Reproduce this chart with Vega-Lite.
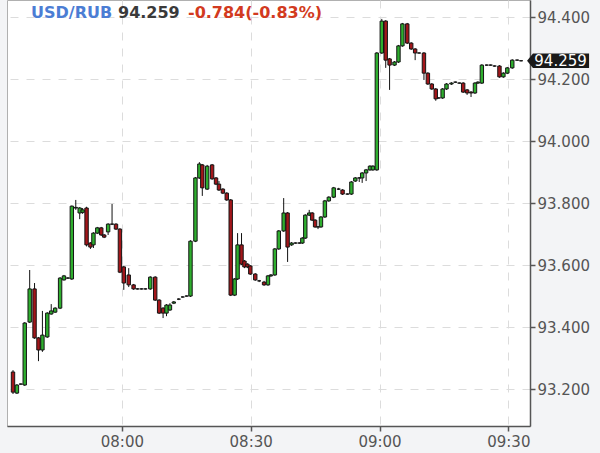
{
  "$schema": "https://vega.github.io/schema/vega-lite/v6.json",
  "width": 523,
  "height": 426,
  "autosize": {"type": "none"},
  "padding": {"left": 7, "top": 0, "right": 70, "bottom": 27},
  "background": "#f3f4f6",
  "view": {"fill": "#ffffff", "stroke": "#b0b0b0", "strokeWidth": 1},
  "config": {
    "axis": {
      "labelFont": "DejaVu Sans",
      "labelFontSize": 15,
      "labelColor": "#555555",
      "domainColor": "#555555",
      "domainWidth": 1.5,
      "tickColor": "#555555",
      "tickSize": 5,
      "tickWidth": 1.5,
      "gridColor": "#dcdcdc",
      "gridDash": [8, 8],
      "gridWidth": 1,
      "title": null
    }
  },
  "data": {
    "format": {"parse": {"t": "date:'%H:%M:%S'"}},
    "values": [
      {"t":"07:34:39","o":93.255,"h":93.261,"l":93.184,"c":93.190},
      {"t":"07:35:34","o":93.187,"h":93.216,"l":93.184,"c":93.213},
      {"t":"07:36:28","o":93.216,"h":93.218,"l":93.214,"c":93.216},
      {"t":"07:37:23","o":93.213,"h":93.416,"l":93.210,"c":93.413},
      {"t":"07:38:32","o":93.416,"h":93.584,"l":93.413,"c":93.523},
      {"t":"07:39:40","o":93.523,"h":93.542,"l":93.362,"c":93.365},
      {"t":"07:40:35","o":93.365,"h":93.368,"l":93.290,"c":93.326},
      {"t":"07:41:30","o":93.326,"h":93.452,"l":93.320,"c":93.374},
      {"t":"07:42:38","o":93.368,"h":93.448,"l":93.365,"c":93.445},
      {"t":"07:43:33","o":93.442,"h":93.474,"l":93.440,"c":93.452},
      {"t":"07:44:28","o":93.448,"h":93.464,"l":93.446,"c":93.461},
      {"t":"07:45:37","o":93.461,"h":93.561,"l":93.458,"c":93.558},
      {"t":"07:46:31","o":93.552,"h":93.568,"l":93.550,"c":93.565},
      {"t":"07:47:26","o":93.558,"h":93.561,"l":93.555,"c":93.558},
      {"t":"07:48:21","o":93.555,"h":93.792,"l":93.552,"c":93.790},
      {"t":"07:49:16","o":93.784,"h":93.810,"l":93.778,"c":93.786},
      {"t":"07:50:11","o":93.768,"h":93.787,"l":93.748,"c":93.784},
      {"t":"07:50:52","o":93.770,"h":93.784,"l":93.765,"c":93.778},
      {"t":"07:51:47","o":93.784,"h":93.788,"l":93.660,"c":93.665},
      {"t":"07:52:41","o":93.671,"h":93.674,"l":93.652,"c":93.658},
      {"t":"07:53:23","o":93.665,"h":93.706,"l":93.655,"c":93.703},
      {"t":"07:54:17","o":93.703,"h":93.723,"l":93.700,"c":93.720},
      {"t":"07:55:12","o":93.720,"h":93.723,"l":93.694,"c":93.697},
      {"t":"07:55:53","o":93.697,"h":93.700,"l":93.687,"c":93.690},
      {"t":"07:56:48","o":93.707,"h":93.735,"l":93.697,"c":93.732},
      {"t":"07:57:43","o":93.732,"h":93.797,"l":93.729,"c":93.732},
      {"t":"07:58:38","o":93.732,"h":93.735,"l":93.713,"c":93.716},
      {"t":"07:59:33","o":93.716,"h":93.719,"l":93.574,"c":93.577},
      {"t":"08:00:27","o":93.594,"h":93.597,"l":93.520,"c":93.542},
      {"t":"08:01:36","o":93.568,"h":93.590,"l":93.529,"c":93.536},
      {"t":"08:02:44","o":93.536,"h":93.539,"l":93.520,"c":93.523},
      {"t":"08:03:39","o":93.523,"h":93.525,"l":93.521,"c":93.523},
      {"t":"08:04:34","o":93.523,"h":93.525,"l":93.521,"c":93.523},
      {"t":"08:05:29","o":93.523,"h":93.525,"l":93.521,"c":93.523},
      {"t":"08:06:37","o":93.523,"h":93.564,"l":93.520,"c":93.561},
      {"t":"08:07:46","o":93.561,"h":93.564,"l":93.484,"c":93.487},
      {"t":"08:08:41","o":93.487,"h":93.490,"l":93.442,"c":93.445},
      {"t":"08:09:36","o":93.461,"h":93.464,"l":93.429,"c":93.445},
      {"t":"08:10:24","o":93.445,"h":93.474,"l":93.435,"c":93.471},
      {"t":"08:11:12","o":93.455,"h":93.477,"l":93.452,"c":93.471},
      {"t":"08:12:06","o":93.477,"h":93.484,"l":93.474,"c":93.481},
      {"t":"08:13:15","o":93.490,"h":93.493,"l":93.487,"c":93.490},
      {"t":"08:14:10","o":93.497,"h":93.499,"l":93.495,"c":93.497},
      {"t":"08:15:05","o":93.500,"h":93.502,"l":93.498,"c":93.500},
      {"t":"08:15:59","o":93.500,"h":93.680,"l":93.497,"c":93.677},
      {"t":"08:17:08","o":93.677,"h":93.884,"l":93.674,"c":93.881},
      {"t":"08:18:03","o":93.881,"h":93.932,"l":93.878,"c":93.926},
      {"t":"08:18:44","o":93.923,"h":93.926,"l":93.823,"c":93.849},
      {"t":"08:19:52","o":93.845,"h":93.923,"l":93.842,"c":93.919},
      {"t":"08:21:01","o":93.923,"h":93.926,"l":93.875,"c":93.878},
      {"t":"08:21:56","o":93.881,"h":93.884,"l":93.858,"c":93.861},
      {"t":"08:22:37","o":93.861,"h":93.871,"l":93.839,"c":93.842},
      {"t":"08:23:32","o":93.845,"h":93.848,"l":93.829,"c":93.832},
      {"t":"08:24:26","o":93.832,"h":93.835,"l":93.807,"c":93.810},
      {"t":"08:25:21","o":93.810,"h":93.813,"l":93.500,"c":93.503},
      {"t":"08:26:16","o":93.503,"h":93.558,"l":93.500,"c":93.555},
      {"t":"08:26:57","o":93.555,"h":93.703,"l":93.552,"c":93.665},
      {"t":"08:27:52","o":93.665,"h":93.703,"l":93.600,"c":93.603},
      {"t":"08:28:33","o":93.613,"h":93.616,"l":93.590,"c":93.594},
      {"t":"08:29:14","o":93.603,"h":93.606,"l":93.590,"c":93.594},
      {"t":"08:29:55","o":93.597,"h":93.600,"l":93.568,"c":93.571},
      {"t":"08:31:04","o":93.571,"h":93.574,"l":93.549,"c":93.552},
      {"t":"08:31:59","o":93.549,"h":93.552,"l":93.545,"c":93.549},
      {"t":"08:33:07","o":93.545,"h":93.549,"l":93.533,"c":93.536},
      {"t":"08:34:02","o":93.536,"h":93.568,"l":93.533,"c":93.565},
      {"t":"08:34:43","o":93.565,"h":93.571,"l":93.562,"c":93.568},
      {"t":"08:35:38","o":93.568,"h":93.655,"l":93.565,"c":93.652},
      {"t":"08:36:33","o":93.652,"h":93.713,"l":93.649,"c":93.710},
      {"t":"08:37:41","o":93.710,"h":93.816,"l":93.707,"c":93.768},
      {"t":"08:38:36","o":93.768,"h":93.771,"l":93.610,"c":93.658},
      {"t":"08:39:31","o":93.665,"h":93.674,"l":93.662,"c":93.671},
      {"t":"08:40:26","o":93.671,"h":93.673,"l":93.669,"c":93.671},
      {"t":"08:41:21","o":93.671,"h":93.673,"l":93.669,"c":93.671},
      {"t":"08:42:02","o":93.671,"h":93.690,"l":93.668,"c":93.687},
      {"t":"08:42:43","o":93.687,"h":93.764,"l":93.684,"c":93.761},
      {"t":"08:43:38","o":93.761,"h":93.778,"l":93.758,"c":93.768},
      {"t":"08:44:19","o":93.768,"h":93.771,"l":93.742,"c":93.745},
      {"t":"08:45:00","o":93.745,"h":93.748,"l":93.720,"c":93.723},
      {"t":"08:45:41","o":93.723,"h":93.726,"l":93.716,"c":93.723},
      {"t":"08:46:22","o":93.723,"h":93.758,"l":93.720,"c":93.755},
      {"t":"08:47:17","o":93.755,"h":93.810,"l":93.752,"c":93.807},
      {"t":"08:48:12","o":93.807,"h":93.822,"l":93.804,"c":93.819},
      {"t":"08:49:20","o":93.819,"h":93.852,"l":93.816,"c":93.849},
      {"t":"08:50:29","o":93.845,"h":93.849,"l":93.842,"c":93.845},
      {"t":"08:51:24","o":93.842,"h":93.845,"l":93.826,"c":93.829},
      {"t":"08:52:32","o":93.829,"h":93.831,"l":93.827,"c":93.829},
      {"t":"08:53:27","o":93.829,"h":93.871,"l":93.826,"c":93.868},
      {"t":"08:54:22","o":93.871,"h":93.884,"l":93.868,"c":93.881},
      {"t":"08:55:17","o":93.881,"h":93.884,"l":93.868,"c":93.881},
      {"t":"08:55:58","o":93.881,"h":93.900,"l":93.865,"c":93.897},
      {"t":"08:56:53","o":93.897,"h":93.910,"l":93.871,"c":93.907},
      {"t":"08:57:47","o":93.907,"h":93.922,"l":93.904,"c":93.919},
      {"t":"08:58:28","o":93.907,"h":93.922,"l":93.904,"c":93.919},
      {"t":"08:59:23","o":93.907,"h":94.287,"l":93.904,"c":94.284},
      {"t":"09:00:32","o":94.284,"h":94.394,"l":94.281,"c":94.387},
      {"t":"09:01:27","o":94.387,"h":94.390,"l":94.236,"c":94.261},
      {"t":"09:02:21","o":94.265,"h":94.268,"l":94.165,"c":94.245},
      {"t":"09:03:30","o":94.245,"h":94.258,"l":94.242,"c":94.255},
      {"t":"09:04:25","o":94.255,"h":94.310,"l":94.252,"c":94.307},
      {"t":"09:05:20","o":94.307,"h":94.381,"l":94.304,"c":94.378},
      {"t":"09:06:28","o":94.378,"h":94.381,"l":94.313,"c":94.316},
      {"t":"09:07:23","o":94.316,"h":94.319,"l":94.294,"c":94.297},
      {"t":"09:08:18","o":94.297,"h":94.300,"l":94.261,"c":94.284},
      {"t":"09:09:13","o":94.284,"h":94.286,"l":94.282,"c":94.284},
      {"t":"09:10:21","o":94.284,"h":94.287,"l":94.197,"c":94.219},
      {"t":"09:11:16","o":94.219,"h":94.222,"l":94.181,"c":94.184},
      {"t":"09:12:11","o":94.184,"h":94.187,"l":94.165,"c":94.168},
      {"t":"09:13:06","o":94.168,"h":94.171,"l":94.130,"c":94.136},
      {"t":"09:13:47","o":94.139,"h":94.141,"l":94.137,"c":94.139},
      {"t":"09:14:42","o":94.139,"h":94.171,"l":94.136,"c":94.168},
      {"t":"09:15:36","o":94.168,"h":94.187,"l":94.165,"c":94.184},
      {"t":"09:16:45","o":94.184,"h":94.190,"l":94.181,"c":94.187},
      {"t":"09:17:40","o":94.190,"h":94.192,"l":94.188,"c":94.190},
      {"t":"09:18:35","o":94.187,"h":94.189,"l":94.185,"c":94.187},
      {"t":"09:19:29","o":94.187,"h":94.190,"l":94.155,"c":94.158},
      {"t":"09:20:24","o":94.165,"h":94.168,"l":94.149,"c":94.155},
      {"t":"09:21:19","o":94.158,"h":94.161,"l":94.142,"c":94.155},
      {"t":"09:22:14","o":94.155,"h":94.190,"l":94.152,"c":94.187},
      {"t":"09:22:55","o":94.187,"h":94.193,"l":94.184,"c":94.190},
      {"t":"09:23:50","o":94.187,"h":94.248,"l":94.184,"c":94.245},
      {"t":"09:24:58","o":94.245,"h":94.247,"l":94.243,"c":94.245},
      {"t":"09:25:53","o":94.245,"h":94.247,"l":94.243,"c":94.245},
      {"t":"09:26:48","o":94.242,"h":94.244,"l":94.240,"c":94.242},
      {"t":"09:27:56","o":94.242,"h":94.245,"l":94.204,"c":94.207},
      {"t":"09:28:51","o":94.207,"h":94.222,"l":94.204,"c":94.219},
      {"t":"09:29:46","o":94.219,"h":94.239,"l":94.216,"c":94.236},
      {"t":"09:30:55","o":94.236,"h":94.264,"l":94.233,"c":94.261},
      {"t":"09:32:03","o":94.261,"h":94.263,"l":94.259,"c":94.261},
      {"t":"09:32:58","o":94.259,"h":94.261,"l":94.257,"c":94.259}
    ]
  },
  "encoding": {
    "x": {
      "field": "t",
      "type": "temporal",
      "scale": {
        "domain": [
          {"year": 1900, "month": 1, "date": 1, "hours": 7, "minutes": 34, "seconds": 25},
          {"year": 1900, "month": 1, "date": 1, "hours": 9, "minutes": 33, "seconds": 53}
        ]
      },
      "axis": {
        "format": "%H:%M",
        "labelPadding": 3,
        "values": [
          {"year": 1900, "month": 1, "date": 1, "hours": 8, "minutes": 0},
          {"year": 1900, "month": 1, "date": 1, "hours": 8, "minutes": 30},
          {"year": 1900, "month": 1, "date": 1, "hours": 9, "minutes": 0},
          {"year": 1900, "month": 1, "date": 1, "hours": 9, "minutes": 30}
        ]
      }
    }
  },
  "layer": [
    {
      "mark": {"type": "rule", "color": "#111111", "strokeWidth": 1},
      "encoding": {
        "y": {
          "field": "l",
          "type": "quantitative",
          "scale": {"domain": [93.0808, 94.455], "nice": false, "zero": false},
          "axis": {
            "orient": "right",
            "values": [93.2, 93.4, 93.6, 93.8, 94.0, 94.2, 94.4],
            "format": ".3f",
            "labelPadding": 2
          }
        },
        "y2": {"field": "h"}
      }
    },
    {
      "mark": {"type": "bar", "size": 3.4, "stroke": "#151515", "strokeWidth": 1},
      "encoding": {
        "y": {"field": "o", "type": "quantitative"},
        "y2": {"field": "c"},
        "fill": {
          "condition": {"test": "datum.c >= datum.o", "value": "#2eae2e"},
          "value": "#a3161a"
        }
      }
    },
    {
      "transform": [
        {"window": [{"op": "row_number", "as": "rn"}], "sort": [{"field": "t", "order": "ascending"}]},
        {"filter": "datum.rn == 1"}
      ],
      "mark": {"type": "text", "align": "left", "baseline": "middle", "font": "DejaVu Sans", "fontSize": 16, "fontWeight": "bold", "color": "#4b7dd4", "xOffset": 18},
      "encoding": {
        "y": {"datum": 94.413, "type": "quantitative"},
        "text": {"value": "USD/RUB"}
      }
    },
    {
      "transform": [
        {"window": [{"op": "row_number", "as": "rn"}], "sort": [{"field": "t", "order": "ascending"}]},
        {"filter": "datum.rn == 1"}
      ],
      "mark": {"type": "text", "align": "left", "baseline": "middle", "font": "DejaVu Sans", "fontSize": 16, "fontWeight": "bold", "color": "#3a3a3a", "xOffset": 105},
      "encoding": {
        "y": {"datum": 94.413, "type": "quantitative"},
        "text": {"value": "94.259"}
      }
    },
    {
      "transform": [
        {"window": [{"op": "row_number", "as": "rn"}], "sort": [{"field": "t", "order": "ascending"}]},
        {"filter": "datum.rn == 1"}
      ],
      "mark": {"type": "text", "align": "left", "baseline": "middle", "font": "DejaVu Sans", "fontSize": 16, "fontWeight": "bold", "color": "#d23a20", "xOffset": 175},
      "encoding": {
        "y": {"datum": 94.413, "type": "quantitative"},
        "text": {"value": "-0.784(-0.83%)"}
      }
    },
    {
      "transform": [
        {"window": [{"op": "row_number", "as": "rn"}], "sort": [{"field": "t", "order": "descending"}]},
        {"filter": "datum.rn == 1"}
      ],
      "mark": {"type": "point", "shape": "M -1 0 L -0.81 -0.234 L 1 -0.234 L 1 0.234 L -0.81 0.234 Z", "size": 3844, "filled": true, "color": "#1a1a1a", "opacity": 1, "xOffset": 37},
      "encoding": {
        "y": {"field": "c", "type": "quantitative"}
      }
    },
    {
      "transform": [
        {"window": [{"op": "row_number", "as": "rn"}], "sort": [{"field": "t", "order": "descending"}]},
        {"filter": "datum.rn == 1"}
      ],
      "mark": {"type": "text", "align": "center", "baseline": "middle", "font": "DejaVu Sans", "fontSize": 15, "color": "#ffffff", "xOffset": 39.5},
      "encoding": {
        "y": {"field": "c", "type": "quantitative"},
        "text": {"field": "c", "type": "quantitative", "format": ".3f"}
      }
    }
  ]
}
